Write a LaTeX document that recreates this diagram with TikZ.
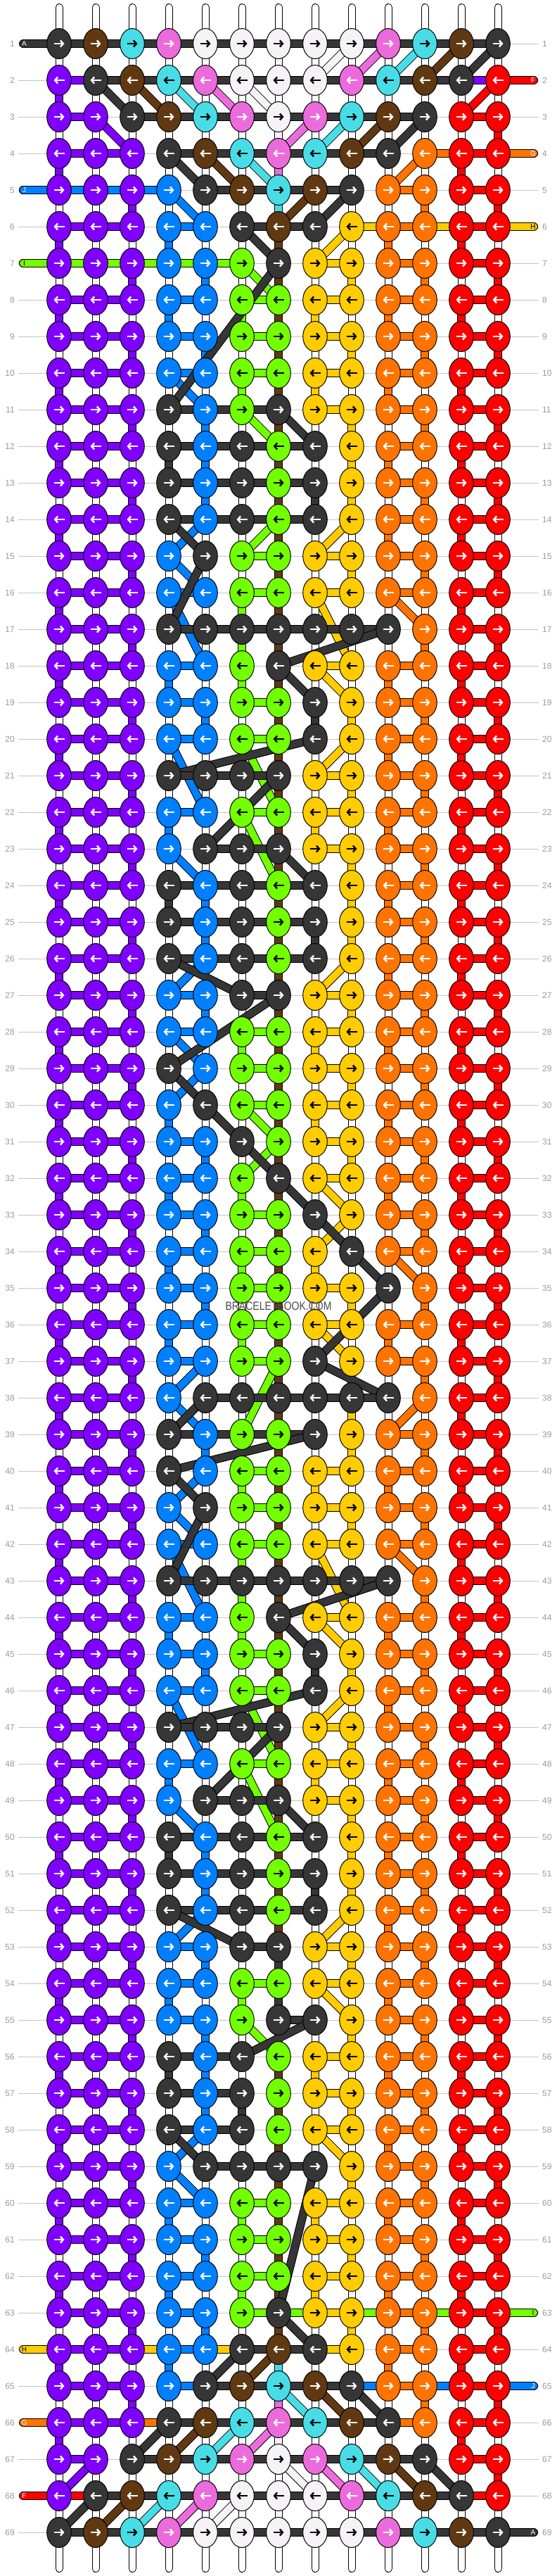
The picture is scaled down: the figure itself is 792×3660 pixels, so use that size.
\documentclass[tikz,border=0pt]{standalone}
\usepackage{fontspec}
\usepackage{graphicx}
\setmainfont{Liberation Sans}
\usetikzlibrary{arrows.meta}
\definecolor{cD}{HTML}{363636}
\definecolor{cN}{HTML}{603913}
\definecolor{cC}{HTML}{48DDE6}
\definecolor{cK}{HTML}{EC6BDC}
\definecolor{cW}{HTML}{F5F3F6}
\definecolor{cP}{HTML}{8000FF}
\definecolor{cB}{HTML}{0080FF}
\definecolor{cG}{HTML}{72FF00}
\definecolor{cY}{HTML}{FFCC00}
\definecolor{cO}{HTML}{FF7300}
\definecolor{cR}{HTML}{FF0000}
\definecolor{lblgray}{HTML}{9A9A9A}
\definecolor{linegray}{HTML}{C4C4C4}
\definecolor{wmgray}{HTML}{4A4A4A}
\tikzset{
  arrbase/.style={line width=2.4pt,-{Straight Barb[length=4pt,width=9pt]}},
  arrD/.style={arrbase,white}, arrN/.style={arrbase,white}, arrK/.style={arrbase,white},
  arrP/.style={arrbase,white}, arrB/.style={arrbase,white}, arrO/.style={arrbase,white},
  arrR/.style={arrbase,white}, arrW/.style={arrbase,black}, arrC/.style={arrbase,black},
  arrG/.style={arrbase,black}, arrY/.style={arrbase,black},
  rowlbl/.style={text=lblgray,inner sep=0pt,font=\fontsize{12}{12}\selectfont},
  stublbl/.style={inner sep=0pt,font=\fontsize{10}{10}\selectfont},
  basestrand/.style={line cap=round},
}
\newcount\bbr \newcount\bbc \newcount\bbs \newcount\bbp
\def\bbrowname{}
\def\bbparse#1{\ifx#1\relax\let\bbnext\relax\else
  \expandafter\xdef\csname bbk-\bbrowname-\the\bbp\endcsname{#1}%
  \global\advance\bbp by 1 \let\bbnext\bbparse\fi\bbnext}
\def\bbsetrow#1#2{\def\bbrowname{#1}\global\bbp=0 \bbparse#2\relax}
\bbsetrow{1}{DNCKWWWWWKCND}
\bbsetrow{2}{PDNCKWWWKCNDR}
\bbsetrow{3}{PPDNCKWKCNDRR}
\bbsetrow{4}{PPPDNCKCNDORR}
\bbsetrow{5}{PPPBDNCNDOORR}
\bbsetrow{6}{PPPBBDNDYOORR}
\bbsetrow{7}{PPPBBGDYYOORR}
\bbsetrow{8}{PPPBBGGYYOORR}
\bbsetrow{9}{PPPBBGGYYOORR}
\bbsetrow{10}{PPPBBGGYYOORR}
\bbsetrow{11}{PPPDBGDYYOORR}
\bbsetrow{12}{PPPDBDGDYOORR}
\bbsetrow{13}{PPPDBDGDYOORR}
\bbsetrow{14}{PPPDBDGDYOORR}
\bbsetrow{15}{PPPBDGGYYOORR}
\bbsetrow{16}{PPPBBGGYYOORR}
\bbsetrow{17}{PPPDDDDDDDORR}
\bbsetrow{18}{PPPBBGDYYOORR}
\bbsetrow{19}{PPPBBGGDYOORR}
\bbsetrow{20}{PPPBBGGDYOORR}
\bbsetrow{21}{PPPDDDDYYOORR}
\bbsetrow{22}{PPPBBGGYYOORR}
\bbsetrow{23}{PPPBDDDYYOORR}
\bbsetrow{24}{PPPDBDGDYOORR}
\bbsetrow{25}{PPPDBDGDYOORR}
\bbsetrow{26}{PPPDBDGDYOORR}
\bbsetrow{27}{PPPBBDDYYOORR}
\bbsetrow{28}{PPPBBGGYYOORR}
\bbsetrow{29}{PPPDBGGYYOORR}
\bbsetrow{30}{PPPBDGGYYOORR}
\bbsetrow{31}{PPPBBDGYYOORR}
\bbsetrow{32}{PPPBBGDYYOORR}
\bbsetrow{33}{PPPBBGGDYOORR}
\bbsetrow{34}{PPPBBGGYDOORR}
\bbsetrow{35}{PPPBBGGYYDORR}
\bbsetrow{36}{PPPBBGGYYOORR}
\bbsetrow{37}{PPPBBGGDYOORR}
\bbsetrow{38}{PPPBDDDDDDORR}
\bbsetrow{39}{PPPDBGGDYOORR}
\bbsetrow{40}{PPPDBGGYYOORR}
\bbsetrow{41}{PPPBDGGYYOORR}
\bbsetrow{42}{PPPBBGGYYOORR}
\bbsetrow{43}{PPPDDDDDDDORR}
\bbsetrow{44}{PPPBBGDYYOORR}
\bbsetrow{45}{PPPBBGGDYOORR}
\bbsetrow{46}{PPPBBGGDYOORR}
\bbsetrow{47}{PPPDDDDYYOORR}
\bbsetrow{48}{PPPBBGGYYOORR}
\bbsetrow{49}{PPPBDDDYYOORR}
\bbsetrow{50}{PPPDBDGDYOORR}
\bbsetrow{51}{PPPDBDGDYOORR}
\bbsetrow{52}{PPPDBDGDYOORR}
\bbsetrow{53}{PPPBBDDYYOORR}
\bbsetrow{54}{PPPBBGGYYOORR}
\bbsetrow{55}{PPPBBGDDYOORR}
\bbsetrow{56}{PPPDBDGYYOORR}
\bbsetrow{57}{PPPDBDGYYOORR}
\bbsetrow{58}{PPPDBDGYYOORR}
\bbsetrow{59}{PPPBDDDDYOORR}
\bbsetrow{60}{PPPBBGGYYOORR}
\bbsetrow{61}{PPPBBGGYYOORR}
\bbsetrow{62}{PPPBBGGYYOORR}
\bbsetrow{63}{PPPBBGDYYOORR}
\bbsetrow{64}{PPPBBDNDYOORR}
\bbsetrow{65}{PPPBDNCNDOORR}
\bbsetrow{66}{PPPDNCKCNDORR}
\bbsetrow{67}{PPDNCKWKCNDRR}
\bbsetrow{68}{PDNCKWWWKCNDR}
\bbsetrow{69}{DNCKWWWWWKCND}
% strand segment: black outline then colour
\def\bbseg#1#2{\edef\bbtmp{\noexpand\draw[line width=12pt,black,line cap=round] #1 -- #2;
  \noexpand\draw[line width=10pt,\bbcolor,line cap=round] #1 -- #2;}\bbtmp}
\def\bbscan{%
  \expandafter\ifx\csname bbk-\the\bbr-\the\bbc\endcsname\bbtarget
    \edef\bbcur{(\the\numexpr84+52*\bbc\relax,\the\numexpr10+52*\bbr\relax)}%
    \ifx\bbprev\empty\else\bbseg{\bbprev}{\bbcur}\fi
    \global\let\bbprev\bbcur
  \fi
  \global\advance\bbc by \bbs
  \ifnum\bbc<0 \let\bbnext\relax\else\ifnum\bbc>12 \let\bbnext\relax\else\let\bbnext\bbscan\fi\fi
  \bbnext}
\def\bbrows{%
  \ifodd\bbr \global\bbc=0 \global\bbs=1 \else \global\bbc=12 \global\bbs=-1 \fi
  \bbscan
  \global\advance\bbr by 1
  \ifnum\bbr<70 \let\bbnextr\bbrows\else\let\bbnextr\relax\fi
  \bbnextr}
\def\bbstrand#1#2#3#4{%
  \def\bbtarget{#1}\def\bbcolor{#2}%
  \gdef\bbprev{#3}%
  \global\bbr=1
  \bbrows
  \def\bbend{#4}%
  \ifx\bbend\empty\else\bbseg{\bbprev}{#4}\fi}
% knots
\def\bbknot#1#2#3{%
  \draw[fill=c#3,line width=1pt] (#1,#2) ellipse [x radius=17.3pt,y radius=21.5pt];
  \ifodd\bbr \draw[arr#3] (#1-7.5,#2) -- (#1+7.5,#2);\else \draw[arr#3] (#1+7.5,#2) -- (#1-7.5,#2);\fi}
\def\bbknotcols{%
  \edef\bbtmp{\noexpand\bbknot{\the\numexpr84+52*\bbc\relax}{\the\numexpr10+52*\bbr\relax}{\csname bbk-\the\bbr-\the\bbc\endcsname}}\bbtmp
  \global\advance\bbc by 1
  \ifnum\bbc<13 \let\bbnext\bbknotcols\else\let\bbnext\relax\fi\bbnext}
\def\bbknotrows{\global\bbc=0 \bbknotcols \global\advance\bbr by 1
  \ifnum\bbr<70 \let\bbnextr\bbknotrows\else\let\bbnextr\relax\fi\bbnextr}
\begin{document}
\begin{tikzpicture}[x=1pt,y=-1pt]
\useasboundingbox (0,0) rectangle (792,3660);
\fill[white] (0,0) rectangle (792,3660);
% row guide lines and numbers
\foreach \r in {1,...,69}{
  \draw[linegray,line width=1pt] (26,10+52*\r) -- (766,10+52*\r);
  \node[rowlbl,anchor=east] (L\r) at (21,10+52*\r) {\r};
  \node[rowlbl,anchor=west] (R\r) at (771,10+52*\r) {\r};
}
% white base strands
\foreach \c in {0,...,12}{
  \draw[basestrand,line width=11pt,black] (84+52*\c,10.5) -- (84+52*\c,3649.5);
  \draw[basestrand,line width=9pt,white] (84+52*\c,10.5) -- (84+52*\c,3649.5);
}
% coloured strands
\bbstrand{G}{cG}{(33,374)}{(759,3286)}
\bbstrand{Y}{cY}{(759,322)}{(33,3338)}
\bbstrand{B}{cB}{(33,270)}{(759,3390)}
\bbstrand{O}{cO}{(759,218)}{(33,3442)}
\bbstrand{R}{cR}{(759,114)}{(33,3546)}
\bbstrand{P}{cP}{(708,114)}{}
\bbstrand{W}{cW}{}{}
\bbstrand{K}{cK}{}{}
\bbstrand{C}{cC}{}{}
\bbstrand{N}{cN}{}{}
\def\bbcolor{cB}\bbseg{(33,270)}{(240,270)}
\def\bbcolor{cG}\bbseg{(33,374)}{(344,374)}
\bbstrand{D}{cD}{(33,62)}{(759,3598)}
% knots
\global\bbr=1
\bbknotrows
% strand letters
\node[stublbl,text=white] (sA1) at (34.5,62) {A};
\node[stublbl,text=white] (sA2) at (758,3598) {A};
\node[stublbl,text=white] (sF1) at (758,114) {F};
\node[stublbl,text=white] (sF2) at (34.5,3546) {F};
\node[stublbl,text=white] (sG1) at (758,218) {G};
\node[stublbl,text=white] (sG2) at (34.5,3442) {G};
\node[stublbl,text=black] (sH1) at (758,322) {H};
\node[stublbl,text=black] (sH2) at (34.5,3338) {H};
\node[stublbl,text=black] (sI1) at (34.5,374) {I};
\node[stublbl,text=black] (sI2) at (758,3286) {I};
\node[stublbl,text=white] (sJ1) at (34.5,270) {J};
\node[stublbl,text=white] (sJ2) at (758,3390) {J};
% watermark
\node[text=wmgray,inner sep=0pt,font=\fontsize{14}{14}\selectfont] (wm) at (396,1856) {\scalebox{1}[1.2]{BRACELETBOOK.COM}};
\end{tikzpicture}
\end{document}
